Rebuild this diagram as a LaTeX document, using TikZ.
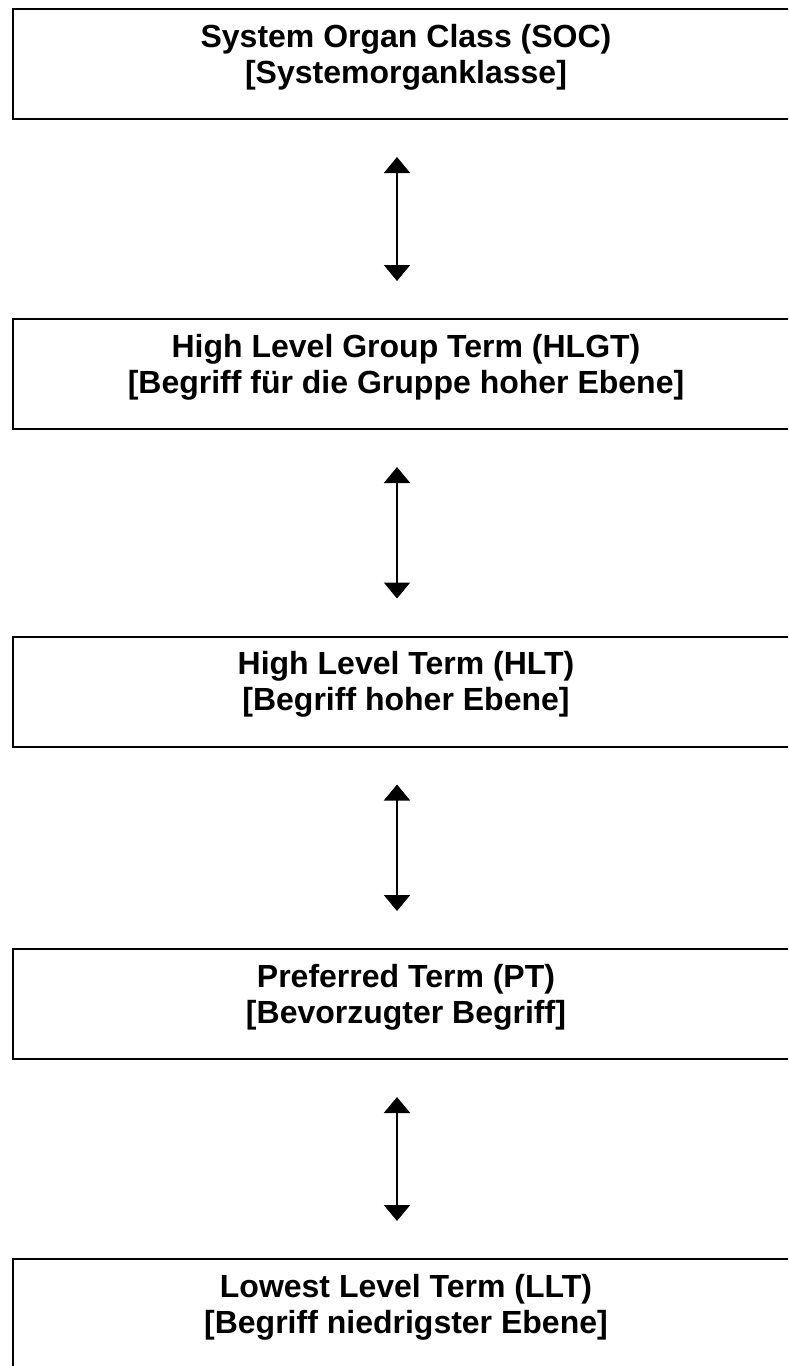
\documentclass[tikz,border=0pt]{standalone}
\usepackage{fontspec}
\setmainfont{Liberation Sans}
\usetikzlibrary{arrows.meta}
\tikzset{
  levelbox/.style={draw=black, line width=2pt, rectangle, minimum width=786pt, minimum height=110pt, inner sep=0pt, fill=white},
  leveltext/.style={anchor=north, align=center, inner sep=0pt, font=\fontsize{32}{36}\selectfont\bfseries, yshift=-16pt},
  linkarrow/.style={line width=2pt, {Triangle[width=26pt,length=16pt]}-{Triangle[width=26pt,length=16pt]}, shorten <=37pt, shorten >=37pt}
}
\begin{document}
\begin{tikzpicture}[x=1pt,y=-1pt]
\useasboundingbox (0,0) rectangle (788,1366);
\clip (0,0) rectangle (788,1366);
\fill[white] (0,0) rectangle (788,1366);
\node[levelbox] (b1) at (406,64) {};
\node[levelbox] (b2) at (406,374) {};
\node[levelbox] (b3) at (406,691.5) {};
\node[levelbox] (b4) at (406,1004) {};
\node[levelbox] (b5) at (406,1314) {};
\node[leveltext] (t1) at (b1.north) {System Organ Class (SOC)\\{}[Systemorganklasse]};
\node[leveltext] (t2) at (b2.north) {High Level Group Term (HLGT)\\{}[Begriff für die Gruppe hoher Ebene]};
\node[leveltext] (t3) at (b3.north) {High Level Term (HLT)\\{}[Begriff hoher Ebene]};
\node[leveltext] (t4) at (b4.north) {Preferred Term (PT)\\{}[Bevorzugter Begriff]};
\node[leveltext] (t5) at (b5.north) {Lowest Level Term (LLT)\\{}[Begriff niedrigster Ebene]};
\draw[linkarrow] ([xshift=-9pt]b1.south) -- ([xshift=-9pt]b2.north);
\draw[linkarrow] ([xshift=-9pt]b2.south) -- ([xshift=-9pt]b3.north);
\draw[linkarrow] ([xshift=-9pt]b3.south) -- ([xshift=-9pt]b4.north);
\draw[linkarrow] ([xshift=-9pt]b4.south) -- ([xshift=-9pt]b5.north);
\end{tikzpicture}
\end{document}
